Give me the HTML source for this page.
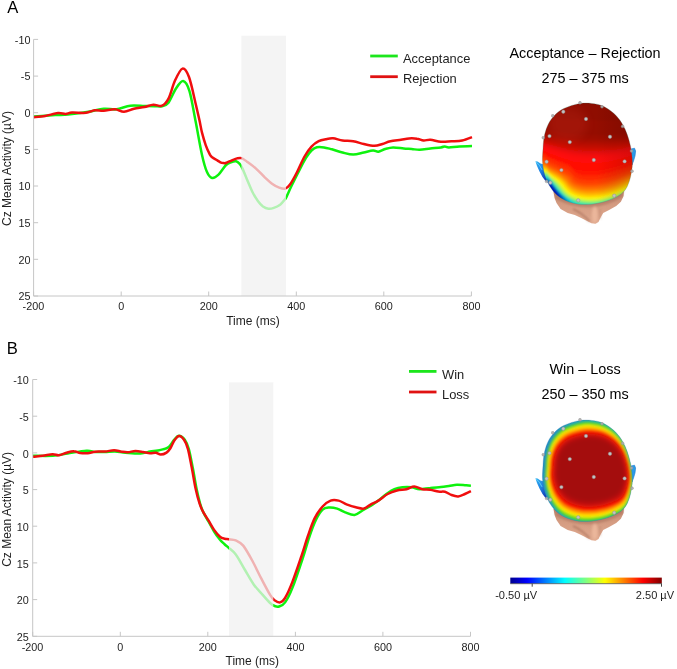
<!DOCTYPE html>
<html><head><meta charset="utf-8"><title>ERP figure</title>
<style>
html,body{margin:0;padding:0;background:#fff;}
svg{display:block;}
text{font-family:"Liberation Sans",sans-serif;fill:#1e1e1e;}
.tk{font-size:10.8px;}
.lb{font-size:12px;}
.lg{font-size:12.9px;}
.tt{font-size:14.4px;fill:#000;}
.pn{font-size:16.6px;fill:#000;}
.cb{font-size:11.05px;}
</style></head><body>
<svg width="677" height="669" viewBox="0 0 677 669">
<rect width="677" height="669" fill="#fff"/>
<g style="opacity:0.999">
<text x="7.2" y="13" class="pn">A</text>
<text x="6.7" y="354" class="pn">B</text>
<!-- chart A -->
<path d="M33.8 116.4 C37.4 116.2 49.7 115.4 55.4 115.1 C61.1 114.8 62.5 115.1 68.0 114.6 C73.5 114.0 82.5 112.8 88.5 111.8 C94.5 110.8 99.0 109.2 103.7 108.8 C108.4 108.4 112.0 109.8 116.4 109.3 C120.9 108.8 125.7 106.2 130.4 105.7 C135.1 105.2 140.4 105.9 144.4 106.0 C148.4 106.1 151.6 106.2 154.5 106.2 C157.4 106.2 159.7 106.8 162.0 106.2 C164.3 105.6 166.2 105.5 168.5 102.6 C170.8 99.6 173.6 92.1 176.0 88.5 C178.4 84.9 180.9 80.6 183.1 81.0 C185.3 81.4 187.3 84.1 189.4 90.8 C191.5 97.5 193.5 110.7 195.6 121.3 C197.7 131.9 200.0 145.9 201.9 154.4 C203.8 162.9 205.3 168.2 207.0 172.1 C208.7 176.0 210.2 177.6 212.1 178.0 C214.0 178.4 216.2 176.9 218.5 174.7 C220.8 172.5 223.9 167.1 226.0 165.0 C228.1 162.9 229.3 162.8 231.0 162.2 C232.7 161.6 234.7 161.0 236.1 161.3 C237.5 161.6 238.6 162.7 239.7 163.9 C240.8 165.1 241.2 165.9 242.4 168.4 C243.6 170.9 245.2 175.3 246.9 179.2 C248.6 183.1 250.5 188.1 252.3 191.7 C254.1 195.3 255.9 198.2 257.7 200.7 C259.5 203.2 261.2 205.2 263.0 206.6 C264.8 207.9 266.6 208.6 268.4 208.8 C270.2 209.0 271.9 208.6 273.8 207.9 C275.8 207.2 278.3 206.0 280.1 204.7 C281.9 203.3 283.6 201.1 284.6 199.8 C285.7 198.5 285.2 199.5 286.4 197.1 C287.6 194.7 289.6 189.8 291.7 185.5 C293.8 181.2 296.5 175.7 298.9 171.1 C301.3 166.5 304.0 161.1 306.1 157.7 C308.2 154.3 309.7 152.2 311.5 150.5 C313.3 148.8 314.8 147.8 316.9 147.3 C319.0 146.8 321.5 147.1 324.0 147.4 C326.5 147.7 328.8 148.5 331.9 149.3 C335.0 150.2 338.9 151.6 342.5 152.5 C346.1 153.4 349.6 154.6 353.2 154.6 C356.8 154.6 360.5 153.2 363.8 152.5 C367.1 151.8 370.7 150.7 373.1 150.6 C375.5 150.5 376.4 152.0 378.4 151.7 C380.4 151.4 382.7 149.7 385.1 149.0 C387.6 148.3 390.0 147.5 393.1 147.4 C396.2 147.3 400.6 148.2 403.7 148.5 C406.8 148.8 409.0 148.8 411.7 149.0 C414.4 149.2 416.5 149.9 419.6 149.8 C422.7 149.7 426.8 148.9 430.3 148.5 C433.9 148.1 438.5 147.8 440.9 147.4 C443.3 147.1 443.6 146.4 444.9 146.4 C446.2 146.4 446.5 147.4 448.9 147.4 C451.3 147.4 455.6 146.6 459.5 146.4 C463.4 146.2 469.9 146.2 472.0 146.1" fill="none" stroke="#0ef20e" stroke-width="2.5" stroke-linejoin="round" stroke-linecap="butt"/>
<path d="M33.8 117.2 C35.7 117.0 41.2 116.6 45.2 115.9 C49.2 115.2 54.6 113.4 58.0 113.1 C61.4 112.8 63.3 114.0 65.6 113.9 C67.9 113.8 68.6 112.8 72.0 112.6 C75.4 112.4 82.2 113.2 86.0 112.8 C89.8 112.4 91.8 110.6 94.8 110.3 C97.8 110.0 100.3 111.0 103.7 110.8 C107.1 110.6 111.6 109.1 115.0 109.3 C118.4 109.5 120.8 111.9 124.0 111.8 C127.2 111.7 130.6 109.6 134.0 108.8 C137.4 108.0 141.2 107.7 144.4 107.0 C147.6 106.3 150.4 104.9 153.3 104.7 C156.2 104.5 159.5 106.7 162.0 105.7 C164.5 104.7 166.3 102.8 168.5 98.6 C170.7 94.4 172.6 85.8 174.9 80.8 C177.2 75.8 180.2 69.2 182.5 68.6 C184.8 68.0 186.8 71.2 189.0 77.0 C191.2 82.8 193.9 96.3 195.6 103.5 C197.3 110.7 198.3 115.2 199.4 120.0 C200.5 124.8 200.9 128.4 202.0 132.6 C203.1 136.8 204.4 141.4 205.7 145.1 C207.0 148.8 208.8 152.5 209.9 154.6 C211.1 156.7 211.6 156.8 212.6 157.6 C213.6 158.4 214.9 158.9 216.2 159.7 C217.5 160.5 219.2 161.7 220.4 162.3 C221.6 162.9 222.5 163.0 223.5 163.1 C224.5 163.2 225.2 163.2 226.6 162.7 C228.0 162.2 230.2 161.0 231.9 160.3 C233.7 159.6 235.5 158.8 237.1 158.4 C238.7 158.0 239.8 157.6 241.5 158.1 C243.2 158.6 244.6 159.9 247.0 161.7 C249.4 163.4 253.0 165.9 256.0 168.6 C259.0 171.2 262.3 175.1 265.0 177.6 C267.7 180.1 269.6 182.0 272.0 183.7 C274.4 185.4 277.0 186.8 279.2 187.6 C281.4 188.4 283.5 189.1 285.3 188.6 C287.1 188.1 288.0 187.4 290.0 184.6 C292.0 181.8 294.7 176.7 297.1 172.0 C299.5 167.3 302.1 160.7 304.5 156.5 C306.9 152.3 309.1 149.2 311.5 146.6 C313.9 144.0 316.3 142.4 318.7 141.2 C321.1 140.0 323.4 139.7 325.8 139.2 C328.2 138.7 330.2 138.1 333.0 138.3 C335.8 138.5 339.1 140.0 342.5 140.5 C345.9 141.0 349.6 140.7 353.2 141.3 C356.8 141.9 360.3 143.2 363.8 144.0 C367.3 144.8 371.3 145.8 374.4 145.8 C377.5 145.8 379.7 144.8 382.4 144.0 C385.1 143.2 387.3 142.0 390.4 141.3 C393.5 140.6 397.9 140.2 401.0 139.7 C404.1 139.2 406.3 138.6 409.0 138.4 C411.7 138.2 414.6 138.3 417.0 138.7 C419.4 139.0 421.4 140.3 423.6 140.5 C425.8 140.7 427.4 139.5 430.3 139.7 C433.2 139.9 437.4 141.5 440.9 141.8 C444.4 142.1 447.9 141.5 451.5 141.3 C455.1 141.1 458.8 141.2 462.2 140.5 C465.6 139.8 470.4 137.7 472.0 137.1" fill="none" stroke="#f00e0e" stroke-width="2.5" stroke-linejoin="round" stroke-linecap="butt"/>
<rect x="241.4" y="35.7" width="44.6" height="260.3" fill="#f0f0f0" fill-opacity="0.73"/>
<path d="M33.6 39.4 V296 H471.4" fill="none" stroke="#c6c6c6" stroke-width="1"/>
<path d="M33.6 39.4 h4.5" stroke="#c6c6c6" stroke-width="1"/>
<text x="30.4" y="43.6" text-anchor="end" class="tk">-10</text>
<path d="M33.6 76.1 h4.5" stroke="#c6c6c6" stroke-width="1"/>
<text x="30.4" y="80.3" text-anchor="end" class="tk">-5</text>
<path d="M33.6 112.7 h4.5" stroke="#c6c6c6" stroke-width="1"/>
<text x="30.4" y="116.9" text-anchor="end" class="tk">0</text>
<path d="M33.6 149.4 h4.5" stroke="#c6c6c6" stroke-width="1"/>
<text x="30.4" y="153.6" text-anchor="end" class="tk">5</text>
<path d="M33.6 186.0 h4.5" stroke="#c6c6c6" stroke-width="1"/>
<text x="30.4" y="190.2" text-anchor="end" class="tk">10</text>
<path d="M33.6 222.7 h4.5" stroke="#c6c6c6" stroke-width="1"/>
<text x="30.4" y="226.9" text-anchor="end" class="tk">15</text>
<path d="M33.6 259.3 h4.5" stroke="#c6c6c6" stroke-width="1"/>
<text x="30.4" y="263.5" text-anchor="end" class="tk">20</text>
<path d="M33.6 296.0 h4.5" stroke="#c6c6c6" stroke-width="1"/>
<text x="30.4" y="300.2" text-anchor="end" class="tk">25</text>
<path d="M33.6 296 v-4.5" stroke="#c6c6c6" stroke-width="1"/>
<text x="33.4" y="310.3" text-anchor="middle" class="tk">-200</text>
<path d="M121.2 296 v-4.5" stroke="#c6c6c6" stroke-width="1"/>
<text x="121.2" y="310.3" text-anchor="middle" class="tk">0</text>
<path d="M208.7 296 v-4.5" stroke="#c6c6c6" stroke-width="1"/>
<text x="208.7" y="310.3" text-anchor="middle" class="tk">200</text>
<path d="M296.3 296 v-4.5" stroke="#c6c6c6" stroke-width="1"/>
<text x="296.3" y="310.3" text-anchor="middle" class="tk">400</text>
<path d="M383.8 296 v-4.5" stroke="#c6c6c6" stroke-width="1"/>
<text x="383.8" y="310.3" text-anchor="middle" class="tk">600</text>
<path d="M471.4 296 v-4.5" stroke="#c6c6c6" stroke-width="1"/>
<text x="471.4" y="310.3" text-anchor="middle" class="tk">800</text>
<text x="253" y="324.5" text-anchor="middle" class="lb">Time (ms)</text>
<text transform="translate(10.9 168.5) rotate(-90)" text-anchor="middle" class="lb">Cz Mean Activity (µV)</text>
<path d="M370.2 56 H397.8" stroke="#1ce61c" stroke-width="2.8"/>
<path d="M370.2 76.7 H397.8" stroke="#e01212" stroke-width="2.8"/>
<text x="403" y="63.4" class="lg">Acceptance</text>
<text x="403" y="82.5" class="lg">Rejection</text>
<text x="585" y="57.6" text-anchor="middle" class="tt">Acceptance – Rejection</text>
<text x="585" y="83.2" text-anchor="middle" class="tt">275 – 375 ms</text>
<!-- chart B -->
<path d="M33.0 455.8 C36.3 455.8 46.8 456.2 52.6 455.8 C58.4 455.4 62.1 454.4 67.7 453.5 C73.4 452.6 81.9 450.9 86.5 450.7 C91.1 450.4 92.2 451.8 95.3 452.0 C98.4 452.2 101.7 452.1 105.0 452.0 C108.3 451.9 111.6 451.4 115.0 451.5 C118.4 451.6 121.2 452.4 125.4 452.7 C129.7 453.0 136.4 453.7 140.5 453.5 C144.6 453.3 147.1 452.1 150.0 451.6 C152.9 451.1 155.2 451.0 157.8 450.5 C160.4 450.0 163.6 449.4 165.5 448.7 C167.4 448.0 167.9 447.9 169.4 446.4 C170.9 444.9 172.7 441.4 174.3 439.6 C175.9 437.8 177.3 435.8 179.1 435.8 C180.8 435.8 183.2 437.6 184.8 439.8 C186.4 442.1 187.6 444.6 188.9 449.3 C190.2 454.0 191.5 461.5 192.8 468.1 C194.1 474.7 195.4 483.2 196.6 489.1 C197.8 495.0 199.0 499.8 200.1 503.7 C201.2 507.6 202.0 509.5 203.4 512.4 C204.8 515.3 206.5 518.0 208.3 521.2 C210.1 524.4 212.2 528.4 214.1 531.5 C216.0 534.6 218.2 537.5 220.0 539.7 C221.8 541.9 223.4 543.1 224.8 544.5 C226.2 545.9 226.9 546.1 228.7 547.8 C230.5 549.5 233.1 550.9 235.8 554.5 C238.5 558.1 241.7 564.5 244.7 569.5 C247.7 574.5 250.7 580.2 253.7 584.4 C256.7 588.6 260.0 591.8 262.7 594.9 C265.4 598.0 268.1 601.1 270.1 603.0 C272.1 604.9 273.1 605.4 274.6 606.0 C276.1 606.6 277.4 607.1 279.1 606.5 C280.9 605.9 282.9 605.6 285.1 602.4 C287.4 599.2 289.7 594.8 292.6 587.4 C295.5 580.0 299.9 566.7 302.7 558.3 C305.5 549.9 307.1 543.4 309.3 537.0 C311.5 530.6 313.8 524.3 316.0 519.8 C318.2 515.2 320.4 511.8 322.6 509.7 C324.8 507.6 326.8 507.7 329.2 507.5 C331.6 507.3 334.5 507.8 337.2 508.6 C339.9 509.4 342.3 511.2 345.2 512.3 C348.1 513.4 351.6 515.3 354.5 515.0 C357.4 514.7 359.8 512.0 362.5 510.5 C365.2 509.0 367.9 507.5 370.5 505.9 C373.1 504.2 375.8 502.6 378.4 500.6 C381.0 498.6 383.7 495.9 386.4 494.0 C389.1 492.1 391.7 490.3 394.4 489.2 C397.1 488.1 399.5 487.6 402.4 487.3 C405.3 487.0 408.8 487.0 411.7 487.3 C414.6 487.6 416.5 489.1 419.6 489.2 C422.7 489.3 426.8 488.2 430.3 487.9 C433.9 487.5 437.8 487.4 440.9 487.1 C444.0 486.8 446.2 486.4 448.9 486.0 C451.6 485.6 454.2 484.8 456.9 484.7 C459.6 484.6 462.6 485.0 464.9 485.2 C467.2 485.4 469.9 485.6 470.9 485.7" fill="none" stroke="#0ef20e" stroke-width="2.5" stroke-linejoin="round" stroke-linecap="butt"/>
<path d="M33.0 456.8 C34.6 456.6 39.3 456.2 42.6 455.8 C45.9 455.4 49.9 454.3 52.6 454.2 C55.3 454.1 56.6 455.4 58.9 455.2 C61.2 454.9 63.9 453.4 66.4 452.7 C68.9 452.0 71.7 451.1 74.0 451.2 C76.3 451.2 77.9 452.7 80.2 453.0 C82.5 453.3 85.3 453.4 87.8 453.2 C90.3 453.0 92.4 452.0 95.3 451.7 C98.2 451.4 102.2 451.8 105.3 451.5 C108.4 451.2 111.4 450.2 114.1 450.2 C116.8 450.2 119.4 451.4 121.7 451.7 C124.0 452.0 125.6 452.3 127.9 452.2 C130.2 452.1 133.0 451.0 135.5 451.0 C138.0 451.0 140.6 451.6 143.0 452.0 C145.4 452.4 147.9 453.2 150.0 453.3 C152.1 453.4 154.0 452.6 155.8 452.8 C157.6 453.0 158.9 454.6 160.7 454.6 C162.5 454.6 164.9 453.7 166.5 452.6 C168.1 451.6 169.1 450.3 170.4 448.3 C171.7 446.3 172.9 442.6 174.3 440.5 C175.8 438.4 177.5 436.1 179.1 436.0 C180.7 435.9 182.5 437.7 184.0 439.8 C185.5 441.9 186.6 444.1 187.9 448.8 C189.2 453.5 190.5 461.1 191.8 467.8 C193.1 474.5 194.4 483.1 195.7 489.1 C197.0 495.1 198.3 499.8 199.6 503.7 C200.9 507.6 201.9 509.6 203.4 512.4 C204.9 515.1 206.5 517.3 208.3 520.2 C210.1 523.1 212.2 527.1 214.1 529.9 C216.0 532.6 218.2 535.2 220.0 536.7 C221.8 538.2 223.4 538.3 224.8 538.7 C226.2 539.1 226.9 538.9 228.7 539.2 C230.5 539.5 233.4 539.3 235.8 540.4 C238.2 541.5 240.5 542.2 243.2 545.6 C245.9 549.0 249.2 555.0 252.2 560.5 C255.2 566.0 258.2 572.7 261.2 578.4 C264.2 584.1 267.9 591.2 270.1 594.9 C272.3 598.5 273.0 599.0 274.6 600.3 C276.2 601.5 278.2 602.8 280.0 602.4 C281.8 602.0 283.0 601.4 285.1 597.9 C287.2 594.4 289.9 588.4 292.6 581.4 C295.3 574.4 298.9 563.6 301.5 556.0 C304.1 548.4 305.8 542.0 308.0 535.7 C310.2 529.4 312.2 523.3 314.6 518.4 C317.0 513.5 319.9 509.5 322.6 506.5 C325.3 503.5 327.9 501.6 330.6 500.6 C333.3 499.6 336.0 500.0 338.6 500.6 C341.2 501.2 343.6 503.2 346.5 504.3 C349.4 505.4 352.9 506.6 355.8 507.3 C358.7 508.0 361.4 509.1 363.8 508.6 C366.2 508.2 368.1 505.9 370.5 504.6 C372.9 503.3 375.5 502.4 378.4 500.6 C381.3 498.8 384.6 495.7 387.7 494.0 C390.8 492.3 393.9 491.3 397.0 490.5 C400.1 489.7 403.5 489.9 406.4 489.2 C409.3 488.5 411.6 486.5 414.3 486.5 C417.0 486.5 419.6 488.7 422.3 489.2 C425.0 489.7 427.6 489.3 430.3 489.7 C433.0 490.1 435.9 491.2 438.3 491.6 C440.7 492.0 442.7 491.2 444.9 491.8 C447.1 492.4 449.4 494.2 451.6 495.0 C453.8 495.8 456.0 496.6 458.2 496.4 C460.4 496.2 462.8 494.9 464.9 494.0 C467.0 493.1 469.9 491.7 470.9 491.2" fill="none" stroke="#f00e0e" stroke-width="2.5" stroke-linejoin="round" stroke-linecap="butt"/>
<rect x="229" y="382.3" width="44.3" height="254.0" fill="#f0f0f0" fill-opacity="0.73"/>
<path d="M32.7 379.5 V636.3 H470.5" fill="none" stroke="#c6c6c6" stroke-width="1"/>
<path d="M32.7 379.5 h4.5" stroke="#c6c6c6" stroke-width="1"/>
<text x="28.8" y="384.3" text-anchor="end" class="tk">-10</text>
<path d="M32.7 416.2 h4.5" stroke="#c6c6c6" stroke-width="1"/>
<text x="28.8" y="421.0" text-anchor="end" class="tk">-5</text>
<path d="M32.7 452.9 h4.5" stroke="#c6c6c6" stroke-width="1"/>
<text x="28.8" y="457.7" text-anchor="end" class="tk">0</text>
<path d="M32.7 489.6 h4.5" stroke="#c6c6c6" stroke-width="1"/>
<text x="28.8" y="494.4" text-anchor="end" class="tk">5</text>
<path d="M32.7 526.2 h4.5" stroke="#c6c6c6" stroke-width="1"/>
<text x="28.8" y="531.0" text-anchor="end" class="tk">10</text>
<path d="M32.7 562.9 h4.5" stroke="#c6c6c6" stroke-width="1"/>
<text x="28.8" y="567.7" text-anchor="end" class="tk">15</text>
<path d="M32.7 599.6 h4.5" stroke="#c6c6c6" stroke-width="1"/>
<text x="28.8" y="604.4" text-anchor="end" class="tk">20</text>
<path d="M32.7 636.3 h4.5" stroke="#c6c6c6" stroke-width="1"/>
<text x="28.8" y="641.1" text-anchor="end" class="tk">25</text>
<path d="M32.7 636.3 v-4.5" stroke="#c6c6c6" stroke-width="1"/>
<text x="32.5" y="651.1" text-anchor="middle" class="tk">-200</text>
<path d="M120.3 636.3 v-4.5" stroke="#c6c6c6" stroke-width="1"/>
<text x="120.3" y="651.1" text-anchor="middle" class="tk">0</text>
<path d="M207.8 636.3 v-4.5" stroke="#c6c6c6" stroke-width="1"/>
<text x="207.8" y="651.1" text-anchor="middle" class="tk">200</text>
<path d="M295.4 636.3 v-4.5" stroke="#c6c6c6" stroke-width="1"/>
<text x="295.4" y="651.1" text-anchor="middle" class="tk">400</text>
<path d="M382.9 636.3 v-4.5" stroke="#c6c6c6" stroke-width="1"/>
<text x="382.9" y="651.1" text-anchor="middle" class="tk">600</text>
<path d="M470.5 636.3 v-4.5" stroke="#c6c6c6" stroke-width="1"/>
<text x="470.5" y="651.1" text-anchor="middle" class="tk">800</text>
<text x="252.3" y="665.4" text-anchor="middle" class="lb">Time (ms)</text>
<text transform="translate(10.9 509.4) rotate(-90)" text-anchor="middle" class="lb">Cz Mean Activity (µV)</text>
<path d="M409 371.4 H436.5" stroke="#1ce61c" stroke-width="2.8"/>
<path d="M409 392 H436.5" stroke="#e01212" stroke-width="2.8"/>
<text x="442" y="379.3" class="lg">Win</text>
<text x="442" y="399" class="lg">Loss</text>
<text x="585" y="373.8" text-anchor="middle" class="tt">Win – Loss</text>
<text x="585" y="399" text-anchor="middle" class="tt">250 – 350 ms</text>
<defs>
<path id="hp" d="M543.0 148.6 C543.2 145.0 543.3 142.2 543.8 138.9 C544.3 135.7 545.0 132.3 546.2 129.1 C547.4 125.8 548.9 122.4 551.1 119.4 C553.3 116.4 556.2 113.4 559.2 111.2 C562.2 109.0 565.5 107.7 569.0 106.4 C572.5 105.1 576.6 103.9 580.4 103.4 C584.2 102.9 588.2 103.0 591.7 103.4 C595.2 103.8 598.2 104.3 601.5 105.6 C604.8 106.9 608.2 108.9 611.2 111.2 C614.2 113.5 617.1 116.4 619.4 119.4 C621.7 122.4 623.4 125.6 625.0 129.1 C626.6 132.6 628.0 136.7 629.1 140.5 C630.2 144.3 631.0 148.0 631.5 151.9 C632.0 155.8 632.5 160.0 632.4 164.0 C632.3 168.0 631.5 172.4 630.7 176.1 C629.9 179.8 628.9 183.1 627.5 185.9 C626.1 188.7 624.8 190.8 622.6 192.8 C620.4 194.8 617.8 196.4 614.5 197.9 C611.2 199.4 606.9 201.1 603.1 202.1 C599.3 203.1 595.8 203.8 591.7 204.2 C587.6 204.5 582.8 204.7 578.7 204.2 C574.7 203.7 570.8 202.6 567.4 201.3 C564.0 200.0 561.0 198.3 558.4 196.3 C555.8 194.3 553.9 192.1 552.0 189.5 C550.1 186.9 548.4 184.1 547.0 181.0 C545.6 177.9 544.6 174.6 543.8 171.2 C543.0 167.8 542.5 164.3 542.4 160.5 C542.3 156.7 542.8 152.2 543.0 148.6Z"/>
<clipPath id="hc"><use href="#hp"/></clipPath>
<filter id="b1" x="-20%" y="-20%" width="140%" height="140%"><feGaussianBlur stdDeviation="1.4"/></filter>
<filter id="b2" x="-20%" y="-20%" width="140%" height="140%"><feGaussianBlur stdDeviation="2.2"/></filter>
<filter id="b4" x="-20%" y="-20%" width="140%" height="140%"><feGaussianBlur stdDeviation="4"/></filter>
<filter id="b08" x="-20%" y="-20%" width="140%" height="140%"><feGaussianBlur stdDeviation="0.8"/></filter>
<filter id="b16" x="-20%" y="-20%" width="140%" height="140%"><feGaussianBlur stdDeviation="1.6"/></filter>
<filter id="b05" x="-20%" y="-20%" width="140%" height="140%"><feGaussianBlur stdDeviation="0.6"/></filter>
<linearGradient id="earg" x1="0" y1="0" x2="0.7" y2="1"><stop offset="0" stop-color="#35b4f2"/><stop offset="0.5" stop-color="#1f7fe0"/><stop offset="1" stop-color="#1030b0"/></linearGradient>
<linearGradient id="shR" x1="0" y1="0" x2="1" y2="0"><stop offset="0" stop-color="#200000" stop-opacity="0"/><stop offset="1" stop-color="#200000" stop-opacity="0.2"/></linearGradient>
<linearGradient id="sk" x1="0" y1="0" x2="0" y2="1"><stop offset="0" stop-color="#b98068"/><stop offset="0.45" stop-color="#d39a80"/><stop offset="1" stop-color="#e0aa90"/></linearGradient>
<linearGradient id="baseA" x1="0" y1="0" x2="1" y2="0"><stop offset="0" stop-color="#1560d8"/><stop offset="0.3" stop-color="#20a0a0"/><stop offset="0.6" stop-color="#40c850"/><stop offset="1" stop-color="#50c840"/></linearGradient>
<linearGradient id="baseB" x1="0" y1="0" x2="1" y2="0.3"><stop offset="0" stop-color="#1c78d8"/><stop offset="0.5" stop-color="#22a8c0"/><stop offset="1" stop-color="#30b890"/></linearGradient>
<linearGradient id="jet" x1="0" y1="0" x2="1" y2="0"><stop offset="0" stop-color="#00008f"/><stop offset="0.11" stop-color="#0000ff"/><stop offset="0.36" stop-color="#00ffff"/><stop offset="0.5" stop-color="#80ff80"/><stop offset="0.625" stop-color="#ffff00"/><stop offset="0.875" stop-color="#ff0000"/><stop offset="1" stop-color="#800000"/></linearGradient>
<g id="under">
<path d="M553.5 192 L554.6 198 L556.5 203 L560.6 208.9 L567.7 213 L574.8 214.9 L580.7 217.8 L586.6 220.8 L591.4 223.2 L595.5 223.8 L598.5 222 L600.8 217.2 L603.2 213 L609.1 210.1 L616.2 206 L620.9 201.8 L623.6 196 L624 190 L600 186 Z" fill="url(#sk)" filter="url(#b05)"/>
<g filter="url(#b08)">
<path d="M556 199 Q575 209 593 207 Q610 205 622 197 L624 190 L554 190 Z" fill="#a8705a" opacity="0.55"/>
<ellipse cx="594.8" cy="214.5" rx="2.9" ry="8" fill="#ecb79c" opacity="0.95"/>
<path d="M573 209 Q582 213 589.6 221.4" fill="none" stroke="#9c6450" stroke-width="1.6" opacity="0.65"/>
<path d="M600.2 209 Q599.6 214 600.3 219" fill="none" stroke="#b07860" stroke-width="1.2" opacity="0.5"/>
</g>
<path d="M535.4 161.2 L537.6 161.4 L540.5 163.6 L544 164.5 L546 172 L548.5 183 L545.5 181 L542.5 177 L539.5 171.5 L537 166 Z" fill="url(#earg)"/>
<path d="M536.4 162.4 L539.4 165.2 L541.8 169.5" fill="none" stroke="#5ccdf8" stroke-width="1" stroke-linecap="round" opacity="0.9"/>
<path d="M631 149 L634.5 148.2 L635.6 151 L635 156 L633.5 161 L632 165 L631 160 Z" fill="#2a9ae8" stroke="#1878d0" stroke-width="0.6"/>
</g>
<g id="elec">
<circle cx="580" cy="102.8" r="1.45" fill="#adadad" stroke="#8c8c8c" stroke-width="0.4" opacity="0.9"/>
<circle cx="602" cy="106.7" r="1.45" fill="#adadad" stroke="#8c8c8c" stroke-width="0.4" opacity="0.9"/>
<circle cx="563.3" cy="111.7" r="1.7" fill="#c2c2c2" stroke="#909090" stroke-width="0.45"/>
<circle cx="552.7" cy="115.8" r="1.45" fill="#adadad" stroke="#8c8c8c" stroke-width="0.4" opacity="0.9"/>
<circle cx="586" cy="119" r="1.7" fill="#c2c2c2" stroke="#909090" stroke-width="0.45"/>
<circle cx="622.6" cy="126.4" r="1.45" fill="#adadad" stroke="#8c8c8c" stroke-width="0.4" opacity="0.9"/>
<circle cx="549.5" cy="136.1" r="1.7" fill="#c2c2c2" stroke="#909090" stroke-width="0.45"/>
<circle cx="543.3" cy="137.7" r="1.45" fill="#adadad" stroke="#8c8c8c" stroke-width="0.4" opacity="0.9"/>
<circle cx="610" cy="136.8" r="1.7" fill="#c2c2c2" stroke="#909090" stroke-width="0.45"/>
<circle cx="569.8" cy="142.1" r="1.7" fill="#c2c2c2" stroke="#909090" stroke-width="0.45"/>
<circle cx="593.8" cy="160" r="1.7" fill="#c2c2c2" stroke="#909090" stroke-width="0.45"/>
<circle cx="624.6" cy="161.4" r="1.7" fill="#c2c2c2" stroke="#909090" stroke-width="0.45"/>
<circle cx="546.6" cy="161.7" r="1.7" fill="#c2c2c2" stroke="#909090" stroke-width="0.45"/>
<circle cx="561.4" cy="170.1" r="1.7" fill="#c2c2c2" stroke="#909090" stroke-width="0.45"/>
<circle cx="632" cy="171.2" r="1.45" fill="#adadad" stroke="#8c8c8c" stroke-width="0.4" opacity="0.9"/>
<circle cx="631.5" cy="151" r="1.45" fill="#adadad" stroke="#8c8c8c" stroke-width="0.4" opacity="0.9"/>
<circle cx="546.6" cy="181.4" r="1.45" fill="#adadad" stroke="#8c8c8c" stroke-width="0.4" opacity="0.9"/>
<circle cx="550.3" cy="182.7" r="1.7" fill="#c2c2c2" stroke="#909090" stroke-width="0.45"/>
<circle cx="578.2" cy="200.3" r="1.7" fill="#c2c2c2" stroke="#909090" stroke-width="0.45"/>
<circle cx="614.2" cy="195.7" r="1.7" fill="#c2c2c2" stroke="#909090" stroke-width="0.45"/>
</g>
</defs>
<g id="headA">
<use href="#under"/>
<g clip-path="url(#hc)">
<g filter="url(#b08)">
<rect x="530" y="92" width="115" height="124" fill="#050eb7"/>
<path d="M640.0 210.0L536.0 210.0L536.0 98.0L640.0 98.0L640.0 210.0ZM558.8 200.0L559.6 199.0L559.2 197.5L559.5 197.0L559.0 196.8L558.8 196.0L558.5 195.8L558.0 195.0L558.0 194.5L557.5 194.2L557.0 193.0L556.5 192.7L555.9 191.5L555.3 191.0L554.9 190.0L554.5 189.7L553.7 188.5L551.5 186.5L549.5 185.1L549.0 185.1L548.0 184.6L547.5 184.7L546.0 184.3L545.5 184.5L545.4 185.0L546.0 187.2L547.5 191.5L548.5 193.5L550.1 195.0L555.5 198.8L558.5 200.2L558.8 200.0Z" fill="#051bba" fill-rule="evenodd"/>
<path d="M640.0 210.0L536.0 210.0L536.0 98.0L640.0 98.0L640.0 210.0ZM559.8 200.5L560.6 199.5L560.5 199.0L560.0 198.8L559.9 198.5L560.3 197.5L560.0 197.3L559.7 196.5L558.9 195.5L555.1 189.5L553.5 187.5L551.0 185.3L549.0 184.1L547.0 183.8L546.5 184.0L545.5 183.6L545.0 183.9L545.5 186.2L546.1 188.0L546.0 189.0L546.1 190.0L546.8 192.5L548.2 194.0L551.5 196.7L557.5 200.1L559.5 200.8L559.8 200.5Z" fill="#0529bc" fill-rule="evenodd"/>
<path d="M640.0 210.0L536.0 210.0L536.0 98.0L640.0 98.0L640.0 210.0ZM560.8 201.0L561.3 200.5L561.2 200.0L561.3 199.5L561.0 199.4L560.9 199.0L561.2 198.5L560.8 197.5L560.0 196.1L559.8 196.0L559.5 195.3L559.0 195.0L559.0 194.5L558.3 194.0L557.5 192.3L557.0 192.0L557.0 191.5L556.5 190.6L555.2 189.0L555.0 188.5L554.1 187.5L553.5 186.5L551.7 185.0L548.9 183.5L548.0 183.2L547.5 183.2L546.5 183.0L546.0 183.2L545.0 183.0L544.8 184.0L545.6 187.5L545.5 188.0L545.1 188.5L545.1 190.0L544.4 190.5L544.5 191.0L546.0 193.0L547.5 194.5L552.0 197.8L559.1 201.0L560.5 201.4L560.8 201.0Z" fill="#0538bf" fill-rule="evenodd"/>
<path d="M640.0 210.0L536.0 210.0L536.0 98.0L640.0 98.0L640.0 210.0ZM561.6 202.0L561.8 201.5L562.3 201.0L562.2 200.5L562.3 200.0L562.0 199.9L561.9 199.5L562.2 199.0L562.0 198.5L561.5 198.3L561.5 197.5L561.0 197.3L558.0 192.5L558.0 192.0L557.5 191.6L552.5 184.9L551.4 184.0L549.4 183.0L548.5 182.8L548.0 182.4L547.5 182.3L547.0 182.6L545.0 182.3L544.5 182.6L544.4 183.0L545.1 186.0L545.1 187.0L543.7 188.5L542.7 189.0L542.5 189.5L544.2 192.5L545.9 194.5L548.3 196.5L550.2 197.5L551.0 197.7L551.5 198.3L552.0 198.4L552.5 198.8L554.5 199.6L555.5 199.7L555.8 200.0L556.5 200.0L559.0 201.3L561.6 202.0Z" fill="#0547c2" fill-rule="evenodd"/>
<path d="M640.0 210.0L536.0 210.0L536.0 98.0L640.0 98.0L640.0 210.0ZM562.7 202.5L562.8 202.0L563.4 201.5L563.2 201.0L563.4 200.5L563.0 200.3L562.7 199.5L562.9 199.0L562.5 198.8L562.5 198.0L562.0 197.8L561.0 196.1L560.7 196.0L560.5 195.3L560.0 195.1L559.5 193.8L559.0 193.5L558.6 192.5L556.4 190.0L552.0 184.0L551.0 183.1L550.5 183.0L550.0 182.6L549.2 182.5L548.5 181.9L547.9 182.0L547.5 181.6L546.5 181.7L546.0 182.0L545.0 181.8L544.2 182.0L544.2 183.0L544.7 186.0L544.0 186.7L541.0 188.0L540.9 188.5L542.6 192.0L544.9 195.0L547.5 197.4L548.0 197.5L548.5 198.0L549.0 198.1L549.5 198.6L550.0 198.5L550.5 199.1L552.0 199.6L552.5 199.5L553.0 199.9L553.5 199.9L555.0 200.4L555.5 200.8L556.0 200.5L556.5 200.9L557.0 200.8L560.0 201.9L562.7 202.5Z" fill="#0557c4" fill-rule="evenodd"/>
<path d="M640.0 210.0L536.0 210.0L536.0 98.0L640.0 98.0L640.0 210.0ZM563.8 203.0L563.9 202.5L564.4 202.0L564.3 201.5L564.5 201.0L564.0 200.7L563.8 200.0L564.0 199.5L563.5 199.3L562.0 196.7L561.7 196.5L561.5 195.9L561.0 195.6L560.8 195.0L560.5 194.9L559.6 193.5L556.6 190.0L551.0 182.5L549.5 181.8L547.0 180.9L546.0 180.9L545.5 181.2L545.0 181.2L544.5 181.5L544.0 181.2L543.9 182.0L544.4 185.0L544.2 185.5L543.0 186.1L541.5 186.1L540.0 186.6L539.3 187.0L539.9 189.5L540.7 191.5L542.2 194.0L543.9 196.0L545.5 197.4L546.0 197.5L546.5 198.0L548.1 199.0L548.5 199.4L549.0 199.4L549.6 200.0L551.0 200.6L551.5 200.5L552.0 201.0L552.5 200.9L553.5 201.4L554.5 201.3L555.0 201.6L555.5 201.4L556.0 201.7L557.0 201.7L557.5 202.0L558.0 201.6L558.5 202.0L559.0 201.9L561.0 202.6L561.5 202.5L562.0 202.8L563.8 203.0Z" fill="#0668c7" fill-rule="evenodd"/>
<path d="M640.0 210.0L536.0 210.0L536.0 98.0L640.0 98.0L640.0 210.0ZM564.9 203.5L565.0 203.0L565.5 202.5L565.4 202.0L565.6 201.5L565.5 201.2L565.0 201.0L564.8 200.5L565.0 199.9L564.5 199.7L564.0 198.7L563.5 198.5L563.5 198.0L563.0 197.7L561.0 194.6L559.5 193.2L556.8 190.0L550.4 181.5L548.5 180.8L548.0 180.9L547.6 180.5L547.0 180.3L546.5 180.6L545.5 180.3L544.5 180.4L543.6 181.0L543.7 182.0L544.1 184.0L544.0 184.9L542.5 185.4L540.5 185.0L539.5 185.4L537.5 185.7L537.4 186.0L537.7 187.0L537.5 187.5L538.1 190.0L539.2 192.5L540.0 194.0L542.3 197.0L543.6 198.0L544.0 198.5L545.0 199.3L545.7 199.5L546.1 200.0L547.5 200.7L548.0 200.7L548.5 201.2L550.0 201.6L550.5 201.6L551.0 202.1L552.0 202.3L552.5 202.6L553.3 202.5L554.0 203.0L554.5 202.5L555.5 203.1L556.0 202.5L556.5 202.8L557.5 202.6L558.0 202.9L559.0 202.8L559.5 203.0L560.0 202.8L561.5 203.0L562.0 203.3L562.5 203.2L563.0 203.4L564.5 203.6L564.9 203.5Z" fill="#0679ca" fill-rule="evenodd"/>
<path d="M640.0 210.0L536.0 210.0L536.0 189.0L536.5 191.0L537.6 193.5L540.0 197.2L541.6 199.0L542.5 199.9L543.0 200.1L543.5 200.7L544.1 201.0L544.5 201.4L545.1 201.5L545.5 202.0L546.5 202.4L547.0 202.9L547.5 202.9L548.0 203.2L549.0 203.3L549.5 203.8L550.5 203.7L551.0 204.1L551.5 204.2L552.0 204.0L552.5 204.3L553.5 204.0L554.0 204.4L555.0 204.2L555.5 204.6L556.5 204.2L557.0 204.5L558.0 204.0L558.5 204.2L559.0 204.1L559.5 203.8L560.5 204.1L561.0 203.8L561.5 204.0L562.0 203.8L563.0 203.9L563.5 203.8L564.0 204.1L564.5 203.9L565.5 204.3L566.0 204.1L566.5 204.1L567.1 203.5L567.1 203.0L567.0 202.6L566.7 202.5L566.7 202.0L566.5 201.4L566.0 201.2L565.3 199.5L564.7 199.0L564.5 198.4L564.0 198.2L563.8 197.5L562.7 196.5L562.5 195.9L562.0 195.6L561.6 195.0L557.8 191.0L550.5 181.2L549.7 180.5L549.0 180.6L548.5 180.3L546.0 179.8L545.5 179.7L545.0 180.0L543.5 179.9L543.4 181.0L543.7 184.0L543.0 184.5L542.0 184.7L539.0 184.0L538.5 184.3L537.5 184.3L536.0 183.8L536.0 98.0L640.0 98.0L640.0 210.0Z" fill="#068bcd" fill-rule="evenodd"/>
<path d="M640.0 210.0L536.0 210.0L536.0 194.5L538.5 198.4L541.9 202.0L545.2 204.5L546.0 204.7L546.5 205.2L547.5 205.5L548.0 206.0L548.9 206.0L549.5 206.5L550.0 206.3L550.5 206.4L551.0 206.8L551.5 206.4L552.5 206.9L553.5 206.4L554.0 206.8L554.5 206.7L554.8 206.5L555.0 206.1L556.0 206.6L557.0 206.2L557.5 206.5L558.0 205.9L559.0 206.2L560.0 205.4L560.5 205.7L561.0 205.6L561.4 205.0L562.5 205.1L563.0 204.6L564.0 205.0L564.5 204.5L565.0 204.8L566.5 204.9L567.0 204.7L567.5 204.9L568.3 204.5L568.4 203.5L568.6 203.0L568.0 202.6L567.5 201.5L567.0 201.4L566.8 201.0L567.0 200.5L566.5 200.3L565.5 198.8L565.0 198.5L564.0 197.1L563.5 196.9L562.6 195.5L561.5 194.7L558.0 191.0L553.7 185.5L550.0 180.3L549.5 180.0L547.0 179.3L546.5 179.5L545.5 179.1L545.0 179.4L544.0 179.3L543.1 180.0L543.5 183.0L543.3 183.5L541.5 184.0L538.5 183.1L537.5 183.2L536.0 182.8L536.0 98.0L640.0 98.0L640.0 210.0Z" fill="#069ecf" fill-rule="evenodd"/>
<path d="M640.0 210.0L554.1 210.0L554.5 209.4L555.5 209.9L555.7 209.5L556.5 209.0L557.5 209.5L557.7 209.0L558.5 208.5L559.0 208.8L559.5 208.6L560.0 207.9L561.0 208.2L562.0 207.3L562.5 207.5L563.3 207.0L563.5 206.4L564.5 206.6L564.9 206.0L566.0 206.1L566.3 205.5L566.5 205.4L567.5 205.8L568.0 205.5L568.5 205.6L569.0 205.4L570.0 205.6L570.2 205.0L570.7 204.5L570.6 204.0L570.5 203.8L570.0 203.7L569.5 202.7L569.0 202.6L568.5 201.6L568.2 201.5L568.0 200.7L567.5 200.5L567.0 199.8L566.5 199.6L566.3 199.0L566.0 198.9L565.5 198.2L565.0 198.0L565.0 197.5L564.5 197.3L563.5 196.0L563.0 195.8L561.5 194.5L558.2 191.0L555.4 187.5L549.5 179.4L549.0 179.5L548.0 178.9L547.5 179.1L547.2 179.0L546.5 178.5L546.0 178.7L545.5 178.7L545.0 179.0L543.5 178.7L543.0 178.8L542.9 180.0L543.1 182.5L543.0 182.9L542.5 183.2L541.0 183.3L536.0 181.7L536.0 98.0L640.0 98.0L640.0 210.0ZM553.5 210.0L536.0 210.0L536.0 201.0L537.2 202.5L538.7 203.5L539.1 204.0L540.0 204.5L540.4 205.0L541.0 204.9L541.5 205.5L542.8 206.0L543.2 206.5L543.5 206.6L544.0 206.4L544.6 207.0L545.5 207.3L546.0 207.7L546.9 208.0L547.5 208.5L548.5 208.7L549.0 209.1L550.0 209.2L550.5 209.6L551.0 209.4L551.5 209.5L552.0 209.8L553.0 209.5L553.8 210.0L553.5 210.0Z" fill="#06b1d2" fill-rule="evenodd"/>
<path d="M640.0 210.0L564.7 210.0L565.0 209.4L565.5 209.2L566.0 209.3L566.1 209.0L566.8 208.5L567.0 207.5L568.0 207.8L568.3 207.0L569.0 206.8L569.5 206.9L569.7 206.5L570.0 206.4L571.0 206.6L571.5 206.2L572.5 206.4L572.8 206.0L572.9 204.5L572.0 204.2L571.5 203.5L571.0 203.4L570.5 202.6L570.2 202.5L570.0 201.8L569.5 201.6L569.0 200.8L568.5 200.6L567.5 199.4L567.0 199.2L566.5 198.5L566.0 198.3L564.5 196.5L563.0 195.5L560.5 193.2L558.4 191.0L555.5 187.5L549.5 179.1L549.0 178.8L545.8 178.0L545.0 177.9L544.5 178.3L543.5 178.2L542.6 179.0L542.7 182.0L542.0 182.7L541.0 182.7L536.0 181.0L536.0 98.0L640.0 98.0L640.0 210.0ZM537.0 210.0L536.0 210.0L536.0 209.0L536.5 209.2L537.2 210.0L537.0 210.0Z" fill="#06c5d5" fill-rule="evenodd"/>
<path d="M640.0 210.0L573.0 210.0L573.3 208.5L574.0 207.9L574.5 208.0L575.0 207.4L576.0 207.5L576.3 207.0L576.4 206.5L576.9 206.0L576.6 205.5L575.5 205.2L574.0 204.1L573.5 204.0L573.0 203.3L572.5 203.2L572.0 202.5L571.5 202.4L571.0 201.7L570.5 201.5L570.0 200.9L569.5 200.7L569.0 200.2L568.5 200.0L568.2 199.5L567.5 198.8L567.0 198.6L566.0 197.4L565.5 197.2L560.5 193.0L556.5 188.5L553.4 184.5L549.5 178.8L548.5 178.0L548.0 177.9L547.5 178.1L546.5 177.5L546.0 177.7L545.0 177.6L544.5 177.8L543.5 177.6L542.5 178.0L542.6 181.0L542.5 181.3L541.5 181.9L540.5 182.1L539.1 181.5L538.5 181.5L536.0 180.4L536.0 98.0L640.0 98.0L640.0 210.0Z" fill="#0bd6d3" fill-rule="evenodd"/>
<path d="M598.0 206.6L597.5 206.9L595.5 207.0L590.0 207.0L585.0 206.7L580.5 205.9L579.0 205.3L578.0 205.1L575.0 203.6L574.5 203.1L574.0 202.9L573.5 202.4L572.5 202.1L570.5 200.5L569.0 199.6L567.0 197.8L566.5 197.6L563.5 195.3L560.8 193.0L558.0 190.0L552.5 183.0L549.5 178.5L549.0 177.9L548.5 177.7L545.0 176.9L544.5 177.2L543.5 177.2L543.0 177.5L542.5 177.5L542.2 178.0L542.3 180.0L542.0 180.8L541.0 181.5L539.0 181.0L536.0 179.9L536.0 98.0L640.0 98.0L640.0 187.5L639.5 187.9L639.0 188.0L637.5 189.4L637.1 189.5L635.5 190.9L635.0 191.0L634.0 192.0L633.7 192.0L631.0 194.0L630.6 194.0L629.5 194.9L629.0 195.0L628.0 195.9L627.5 196.0L627.0 196.5L626.5 196.5L626.0 197.0L624.5 197.9L624.0 198.0L623.5 198.4L623.0 198.5L622.5 198.9L622.0 199.0L621.5 199.4L621.0 199.5L620.5 199.9L620.0 200.0L619.5 200.4L618.9 200.5L618.5 200.9L617.7 201.0L617.0 201.5L616.5 201.5L616.0 201.9L615.4 202.0L615.0 202.3L614.0 202.5L613.5 202.9L612.5 203.0L612.0 203.5L611.3 203.5L610.5 204.0L609.5 204.0L609.0 204.4L608.0 204.5L607.5 204.9L606.0 205.0L605.5 205.4L604.0 205.5L603.5 205.9L603.0 206.0L601.5 206.0L601.0 206.3L600.5 206.4L598.0 206.6Z" fill="#1ddac5" fill-rule="evenodd"/>
<path d="M597.0 205.5L592.5 205.8L589.0 205.8L586.0 205.6L582.0 205.1L577.0 203.5L572.0 201.0L565.0 196.2L561.1 193.0L553.0 183.3L549.7 178.5L548.7 177.5L548.5 177.0L548.0 176.8L547.5 177.1L546.5 176.5L546.0 176.7L543.0 176.4L542.2 177.0L542.0 178.0L542.0 180.1L540.5 180.7L539.5 180.6L536.0 179.5L536.0 98.0L640.0 98.0L640.0 186.1L634.5 190.2L629.0 193.8L623.5 197.0L618.5 199.4L613.0 201.7L607.5 203.5L602.0 204.7L597.0 205.5Z" fill="#31dfb5" fill-rule="evenodd"/>
<path d="M595.5 204.5L589.0 204.7L586.0 204.5L582.0 204.0L578.5 203.1L575.0 201.9L572.0 200.4L565.0 196.0L561.5 193.0L559.5 190.5L559.0 190.1L557.5 188.0L552.0 181.6L548.5 176.7L545.0 175.9L544.5 175.8L544.0 176.2L543.0 176.1L542.0 176.7L541.9 177.0L541.8 179.0L541.5 179.4L540.5 179.9L539.0 180.0L536.0 179.1L536.0 98.0L640.0 98.0L640.0 185.0L634.0 189.4L628.5 193.0L623.0 196.1L617.5 198.8L612.0 200.9L606.5 202.6L601.0 203.8L595.5 204.5Z" fill="#44e3a6" fill-rule="evenodd"/>
<path d="M597.0 203.5L592.5 203.9L588.5 203.9L585.0 203.6L581.0 203.0L578.5 202.5L575.5 201.4L568.5 197.9L564.5 195.2L562.5 193.4L557.2 187.0L552.0 181.2L548.0 175.8L547.5 176.1L546.7 175.5L546.0 175.4L545.5 175.6L544.0 175.3L542.5 175.4L541.7 176.0L541.5 178.7L540.1 179.5L538.0 179.2L536.0 178.7L536.0 98.0L640.0 98.0L640.0 184.1L634.0 188.6L629.5 191.5L623.5 195.0L618.5 197.5L612.0 200.1L607.0 201.6L602.5 202.7L597.0 203.5Z" fill="#58e797" fill-rule="evenodd"/>
<path d="M596.0 203.0L588.5 203.3L585.0 203.0L581.0 202.4L578.5 201.9L575.5 200.8L568.5 197.6L565.9 196.0L564.5 194.5L562.6 193.0L555.1 184.0L551.0 179.7L548.5 176.0L547.5 175.0L547.0 175.2L544.0 174.8L543.5 175.1L542.0 175.0L541.5 176.0L541.3 178.0L540.0 178.8L538.5 178.8L536.0 178.3L536.0 98.0L640.0 98.0L640.0 183.5L634.5 187.6L629.0 191.3L623.5 194.4L618.0 197.1L612.5 199.3L607.0 201.0L601.5 202.3L596.0 203.0Z" fill="#6eec86" fill-rule="evenodd"/>
<path d="M595.0 202.5L591.0 202.7L587.5 202.6L581.0 201.9L577.5 201.0L574.5 200.0L570.5 198.3L568.0 196.9L567.0 196.3L566.0 195.3L565.5 195.0L562.3 192.0L560.5 189.5L560.0 189.2L558.0 186.5L552.9 181.0L551.0 179.3L548.9 176.5L548.1 175.0L547.5 174.6L546.0 174.3L545.5 174.6L543.5 174.0L543.0 174.4L542.0 174.3L541.4 175.0L541.4 175.5L541.0 177.4L539.5 178.3L538.0 178.0L537.5 178.1L536.0 177.7L536.0 98.0L640.0 98.0L640.0 182.9L634.0 187.4L628.5 191.0L623.0 194.1L617.5 196.7L612.0 198.9L606.0 200.7L600.5 201.8L595.0 202.5Z" fill="#84f076" fill-rule="evenodd"/>
<path d="M594.0 202.0L587.5 202.1L581.0 201.3L575.5 199.9L572.5 198.8L569.9 197.5L566.5 195.2L563.5 192.5L557.9 185.5L552.5 180.0L550.7 178.5L547.5 173.9L547.0 174.2L546.1 174.0L545.5 173.5L545.0 173.8L543.5 173.7L543.0 174.0L541.5 173.8L541.4 174.5L541.1 175.0L540.8 177.0L539.5 177.3L539.0 177.6L536.0 177.2L536.0 98.0L640.0 98.0L640.0 182.3L634.0 186.8L628.5 190.4L622.5 193.8L617.0 196.3L611.0 198.6L605.5 200.2L600.0 201.3L594.0 202.0Z" fill="#9bf464" fill-rule="evenodd"/>
<path d="M593.0 201.5L586.0 201.4L580.0 200.6L575.7 199.5L573.5 198.7L569.0 196.4L566.5 194.4L566.0 194.2L564.3 192.5L563.5 191.4L563.0 191.1L562.5 190.5L560.0 187.0L557.8 184.5L550.0 177.3L547.5 173.6L545.5 173.2L545.0 173.3L544.6 173.0L544.0 172.9L543.5 172.9L543.0 173.3L541.5 173.2L541.0 174.0L540.8 175.5L540.0 176.4L538.5 176.8L537.5 176.8L537.0 177.0L536.0 176.7L536.0 98.0L640.0 98.0L640.0 181.8L634.0 186.2L628.0 190.1L622.0 193.5L616.5 196.0L610.5 198.2L604.5 199.9L599.0 200.9L593.0 201.5Z" fill="#b0f553" fill-rule="evenodd"/>
<path d="M591.5 201.0L586.0 200.9L580.0 200.1L576.0 199.0L573.0 197.8L570.0 196.3L567.5 194.5L567.0 194.3L566.0 193.2L565.5 193.0L564.8 192.0L564.5 191.8L562.5 189.5L560.0 186.0L557.7 183.5L555.0 181.0L552.3 179.0L550.5 177.1L550.0 176.9L547.5 173.1L546.4 173.0L545.5 172.4L545.0 172.7L541.1 172.5L541.0 173.5L540.7 174.0L540.5 174.9L539.5 175.9L538.5 176.2L536.5 175.9L536.0 176.1L536.0 98.0L640.0 98.0L640.0 181.2L633.5 186.0L627.5 189.9L621.5 193.2L615.5 195.9L609.5 198.0L603.5 199.6L597.5 200.6L591.5 201.0Z" fill="#c4f541" fill-rule="evenodd"/>
<path d="M597.0 200.0L590.0 200.4L583.5 200.0L578.0 198.9L575.0 197.9L572.0 196.7L569.5 195.3L568.5 194.4L568.0 194.2L567.0 193.2L566.6 193.0L562.5 188.5L559.9 185.0L554.8 180.0L552.5 178.4L551.3 177.5L551.0 177.0L549.7 176.0L547.7 173.0L547.0 172.4L543.5 171.8L543.0 171.8L542.5 172.1L541.0 172.1L540.2 174.5L539.5 175.1L537.5 175.5L536.0 175.2L536.0 98.0L640.0 98.0L640.0 180.6L634.8 184.5L629.0 188.4L623.5 191.5L618.5 194.0L612.5 196.4L607.5 198.0L601.5 199.4L597.0 200.0Z" fill="#d9f52e" fill-rule="evenodd"/>
<path d="M593.5 199.5L586.0 199.5L580.0 198.6L575.0 197.2L570.5 195.1L569.5 194.2L569.0 194.0L567.4 192.5L567.0 192.3L563.5 188.6L560.3 184.5L557.5 181.7L554.5 179.0L552.5 177.7L549.5 175.2L547.5 172.4L546.3 171.5L545.0 171.3L544.5 171.6L542.5 171.0L542.0 171.4L541.0 171.3L540.7 171.5L540.6 172.5L540.0 173.8L538.5 174.5L537.5 174.5L537.0 174.7L536.0 174.6L536.0 98.0L640.0 98.0L640.0 179.9L633.5 184.6L628.0 188.2L622.0 191.5L616.5 194.0L611.0 196.1L605.0 197.8L599.5 198.9L593.5 199.5Z" fill="#edf51c" fill-rule="evenodd"/>
<path d="M596.0 198.5L589.5 198.8L583.5 198.4L578.0 197.4L575.5 196.6L572.5 195.3L571.5 194.5L570.0 193.7L568.5 192.4L568.0 192.2L566.0 190.2L565.6 190.0L563.5 187.0L560.9 184.0L556.1 179.5L553.0 177.2L552.4 177.0L552.0 176.5L551.5 176.4L551.2 176.0L549.8 175.0L548.4 173.5L547.0 171.2L545.5 171.0L545.0 170.6L544.5 170.8L542.5 170.6L542.0 170.9L541.0 170.7L540.2 171.5L540.2 172.5L539.5 173.1L538.0 173.8L536.0 173.8L536.0 98.0L640.0 98.0L640.0 179.3L638.7 180.0L632.5 184.5L628.0 187.4L622.5 190.4L617.5 192.8L612.0 195.0L606.5 196.7L601.5 197.8L596.0 198.5Z" fill="#fff50a" fill-rule="evenodd"/>
<path d="M591.0 198.0L586.0 197.8L580.5 197.1L575.5 195.6L572.0 193.9L569.5 192.3L567.4 190.5L564.8 187.5L564.6 187.0L563.4 185.5L559.5 181.4L555.3 178.0L551.5 175.7L550.9 175.0L549.4 174.0L548.1 172.5L547.2 171.0L546.5 170.4L545.0 170.1L544.5 170.3L544.1 170.0L542.0 169.8L541.5 170.2L540.5 170.1L540.2 170.5L539.6 172.5L538.5 172.7L538.0 173.1L536.0 172.9L536.0 98.0L640.0 98.0L640.0 178.6L637.6 180.0L630.5 185.0L625.5 188.0L619.7 191.0L615.1 193.0L609.5 195.0L603.8 196.5L598.0 197.5L591.0 198.0Z" fill="#ffe705" fill-rule="evenodd"/>
<path d="M596.5 196.5L589.5 196.8L586.0 196.7L582.5 196.3L577.5 195.2L574.0 193.8L571.5 192.5L570.5 191.8L570.0 191.6L567.7 189.5L565.0 186.3L562.9 183.5L560.0 180.6L558.0 179.0L555.5 177.5L555.0 177.0L554.0 176.5L553.6 176.0L551.0 174.6L550.1 174.0L549.8 173.5L548.5 172.7L547.0 170.2L546.4 169.5L544.5 169.2L544.0 169.6L543.0 169.5L541.0 169.0L540.2 169.5L540.1 170.0L539.7 170.5L539.5 171.6L538.0 171.9L537.5 172.2L536.0 172.1L536.0 98.0L640.0 98.0L640.0 177.8L636.1 180.0L631.5 183.2L626.5 186.3L621.5 189.0L617.0 191.1L612.0 193.0L606.5 194.7L601.5 195.8L596.5 196.5Z" fill="#ffd405" fill-rule="evenodd"/>
<path d="M594.5 195.5L588.5 195.7L582.5 195.1L579.5 194.6L577.0 193.9L575.0 193.2L572.5 192.0L571.5 191.2L571.0 191.0L567.0 187.2L566.3 186.5L564.2 183.5L561.0 180.3L559.0 178.7L553.5 175.2L552.9 175.0L552.4 174.5L549.8 173.0L549.4 172.5L548.1 171.5L546.9 169.5L545.3 168.5L544.0 168.3L543.5 168.7L540.5 168.7L539.7 169.5L539.6 170.0L539.0 170.8L537.5 171.2L536.0 171.2L536.0 98.0L640.0 98.0L640.0 176.9L634.5 180.0L629.5 183.3L625.0 186.0L620.5 188.3L616.0 190.3L610.5 192.3L605.0 193.9L599.5 195.0L594.5 195.5Z" fill="#ffc105" fill-rule="evenodd"/>
<path d="M591.0 194.5L586.0 194.3L580.5 193.6L577.0 192.6L573.0 190.8L571.0 189.5L567.1 186.0L565.5 183.5L561.5 179.5L557.8 177.0L552.5 173.8L551.6 173.5L551.3 173.0L550.5 172.9L550.3 172.5L548.7 171.5L548.4 171.0L547.8 170.5L547.0 169.0L546.0 168.1L545.0 168.0L544.4 167.5L543.5 167.4L543.0 167.7L540.5 167.7L539.7 168.5L539.6 169.0L539.0 169.5L537.5 170.3L536.0 170.2L536.0 98.0L640.0 98.0L640.0 176.0L632.8 180.0L628.1 183.0L623.7 185.5L618.6 188.0L613.8 190.0L607.8 192.0L601.5 193.5L597.5 194.1L591.0 194.5Z" fill="#ffae05" fill-rule="evenodd"/>
<path d="M591.0 193.0L585.0 192.8L580.0 192.0L576.5 191.0L572.0 188.8L568.2 185.5L566.0 182.5L562.5 179.2L558.0 176.0L554.5 174.1L552.5 172.7L551.7 172.5L551.3 172.0L550.5 171.9L550.3 171.5L548.5 170.5L546.0 167.2L544.2 167.0L543.5 166.5L543.0 166.4L542.5 166.4L542.0 166.8L540.0 166.8L539.7 167.0L539.6 168.0L539.0 168.7L537.5 169.3L536.0 169.2L536.0 98.0L640.0 98.0L640.0 174.9L630.5 180.0L622.5 184.6L617.5 187.0L613.0 188.8L607.5 190.6L602.0 191.9L596.5 192.7L591.0 193.0Z" fill="#ff9b05" fill-rule="evenodd"/>
<path d="M591.5 191.5L586.0 191.4L580.0 190.5L575.5 189.1L572.5 187.6L569.3 185.0L568.0 183.6L566.5 181.6L561.3 177.0L557.6 174.5L551.8 171.5L551.5 171.0L550.7 171.0L550.4 170.5L548.5 169.5L548.2 169.0L547.4 168.5L546.6 167.0L546.0 166.4L543.6 166.0L542.7 165.5L542.0 165.5L541.5 165.8L540.0 165.8L539.6 166.0L539.5 166.5L539.1 167.0L539.0 167.6L538.6 168.0L536.0 168.2L536.0 98.0L640.0 98.0L640.0 173.8L628.1 180.0L621.5 183.6L617.0 185.7L613.0 187.3L607.5 189.1L602.0 190.4L597.0 191.1L591.5 191.5Z" fill="#ff8805" fill-rule="evenodd"/>
<path d="M591.0 190.0L587.0 189.9L582.0 189.4L578.0 188.4L574.5 187.0L572.0 185.5L570.5 184.3L569.0 183.0L567.5 181.0L563.0 176.9L561.2 175.5L557.5 173.1L552.1 170.5L551.7 170.0L550.9 170.0L550.6 169.5L548.5 168.5L548.2 168.0L547.4 167.5L546.5 166.0L546.0 165.5L543.3 165.0L542.1 164.5L540.5 164.4L539.4 165.0L539.4 165.5L538.8 166.0L538.5 167.0L536.0 167.1L536.0 98.0L640.0 98.0L640.0 172.7L620.7 182.5L617.5 184.0L612.5 186.0L606.0 188.0L601.3 189.0L598.0 189.5L591.0 190.0Z" fill="#ff7505" fill-rule="evenodd"/>
<path d="M591.5 188.0L587.0 187.9L582.0 187.4L578.5 186.6L575.0 185.4L573.0 184.3L570.7 182.5L569.7 181.5L568.4 179.5L566.5 177.7L560.4 173.5L557.0 171.5L552.4 169.5L552.0 169.0L551.3 169.0L550.9 168.5L548.6 167.5L548.3 167.0L547.3 166.5L546.0 164.5L545.8 164.0L545.5 163.7L545.0 164.2L543.2 164.0L542.5 163.5L539.5 163.4L539.1 164.5L538.5 165.2L537.2 166.0L536.0 166.0L536.0 98.0L640.0 98.0L640.0 171.2L629.5 176.4L619.0 181.3L612.0 184.2L606.5 185.9L601.5 187.0L596.5 187.7L591.5 188.0Z" fill="#ff6205" fill-rule="evenodd"/>
<path d="M591.5 186.0L587.0 185.9L582.0 185.4L577.5 184.4L575.0 183.4L572.6 182.0L571.6 181.0L570.4 178.5L567.4 176.0L565.0 174.5L562.5 173.4L558.0 170.6L554.3 169.0L554.0 168.7L552.9 168.5L552.5 168.0L550.1 167.0L549.9 166.5L549.5 166.4L549.0 166.6L548.8 166.5L548.6 166.0L547.6 165.5L547.4 165.0L546.8 164.5L546.1 163.0L545.2 162.0L544.5 161.9L544.0 162.3L539.5 162.2L539.1 162.5L538.5 163.7L536.0 164.1L536.0 98.0L640.0 98.0L640.0 169.7L624.0 177.3L615.5 180.9L611.0 182.5L606.0 184.0L601.0 185.1L596.5 185.7L591.5 186.0Z" fill="#ff4f05" fill-rule="evenodd"/>
<path d="M591.5 184.0L588.0 184.0L582.7 183.5L580.0 182.9L577.0 181.8L574.0 180.0L572.5 178.2L572.3 177.5L572.0 177.1L568.5 174.4L563.0 171.4L562.5 171.4L561.5 171.0L559.3 169.5L559.0 169.0L558.4 169.0L558.0 168.4L557.4 168.5L557.2 168.0L553.3 166.5L553.0 166.0L552.5 166.3L551.9 166.0L551.7 165.5L550.4 165.0L550.1 164.5L549.5 164.7L548.9 164.5L548.7 164.0L547.6 163.5L547.4 163.0L546.6 162.5L546.5 162.0L546.0 161.5L545.9 161.0L544.4 160.0L539.5 159.8L539.1 161.0L538.6 161.5L538.5 162.0L537.0 162.3L536.5 162.6L536.0 162.6L536.0 98.0L640.0 98.0L640.0 168.2L632.0 172.0L623.0 176.0L618.0 178.0L611.0 180.5L605.9 182.0L601.2 183.0L598.0 183.5L591.5 184.0Z" fill="#ff3c05" fill-rule="evenodd"/>
<path d="M596.0 180.0L590.0 180.3L584.0 180.0L580.0 179.3L576.5 178.1L574.2 176.5L573.8 175.5L573.1 175.0L571.0 172.6L569.0 171.1L564.0 168.4L563.5 168.5L563.0 167.9L562.5 168.1L562.0 167.5L561.5 167.7L560.5 167.3L559.0 166.5L558.8 166.0L555.2 164.5L554.9 164.0L554.0 163.7L553.5 163.8L553.3 163.5L551.7 163.0L551.5 162.5L551.0 162.3L550.3 162.5L550.1 162.0L548.4 161.5L548.2 161.0L547.1 160.5L546.9 160.0L546.2 159.5L546.1 159.0L545.5 158.5L545.4 158.0L540.0 157.7L539.5 157.2L539.0 157.5L538.8 158.5L538.0 159.0L537.3 160.0L536.0 160.3L536.0 98.0L640.0 98.0L640.0 165.5L625.0 172.0L614.5 175.9L609.5 177.5L605.0 178.6L600.5 179.5L596.0 180.0Z" fill="#ff2905" fill-rule="evenodd"/>
<path d="M592.0 175.5L588.0 175.5L583.5 175.2L581.0 174.8L578.0 174.0L577.0 173.5L571.5 167.9L568.5 165.8L562.6 163.5L562.0 163.0L561.5 163.2L561.0 163.0L560.0 162.4L559.5 162.6L559.0 162.0L556.5 161.0L556.1 160.5L552.7 159.5L552.2 159.0L550.5 158.5L550.1 158.0L548.3 157.5L548.0 157.0L546.6 156.5L546.4 155.5L544.8 154.5L543.0 154.3L542.5 153.8L540.0 153.7L539.0 154.0L538.5 154.6L536.0 154.9L536.0 98.0L640.0 98.0L640.0 161.9L623.5 168.5L612.0 172.2L606.5 173.6L601.5 174.6L596.5 175.2L592.0 175.5Z" fill="#ff1605" fill-rule="evenodd"/>
<path d="M592.0 171.0L588.0 171.0L583.5 170.7L575.0 169.5L574.5 169.2L572.0 166.4L570.5 165.1L564.5 162.2L563.4 162.0L562.8 161.5L561.8 161.5L561.2 161.0L555.1 159.0L554.6 158.5L552.6 158.0L551.3 157.0L549.5 156.5L548.8 156.0L547.2 155.5L546.5 154.5L544.7 153.5L544.0 153.4L543.5 153.0L540.0 152.6L537.0 153.3L536.0 153.1L536.0 98.0L640.0 98.0L640.0 158.6L623.5 164.6L612.0 168.0L606.5 169.3L601.5 170.2L596.5 170.8L592.0 171.0Z" fill="#ff1005" fill-rule="evenodd"/>
<path d="M592.5 166.5L588.0 166.5L583.0 166.2L578.5 165.7L573.5 164.8L573.0 164.6L571.1 163.0L570.0 162.4L564.5 160.5L559.3 159.0L556.0 157.5L554.2 157.0L552.3 156.0L550.5 155.5L548.5 154.4L547.3 154.0L545.3 152.5L544.0 152.3L543.5 151.9L540.0 151.3L538.5 151.7L538.0 151.4L536.0 151.2L536.0 98.0L640.0 98.0L640.0 155.2L624.0 160.6L612.5 163.7L607.0 164.9L602.0 165.7L597.0 166.3L592.5 166.5Z" fill="#ff0a05" fill-rule="evenodd"/>
<path d="M598.0 163.0L591.5 163.3L585.5 163.2L579.5 162.6L573.0 161.6L568.9 160.0L564.0 158.7L558.9 157.0L553.9 155.0L552.0 154.5L547.0 152.3L546.0 151.4L542.6 150.5L540.0 150.0L539.0 150.2L536.0 149.7L536.0 98.0L640.0 98.0L640.0 152.8L626.0 157.2L615.5 160.1L606.5 161.9L598.0 163.0Z" fill="#ff1109" fill-rule="evenodd"/>
<path d="M597.5 160.5L591.0 160.8L585.0 160.6L579.0 160.0L572.5 159.0L561.0 155.7L555.7 154.0L548.6 151.5L547.0 150.7L546.0 149.9L543.3 149.0L540.5 148.3L539.0 148.4L536.0 147.9L536.0 98.0L640.0 98.0L640.0 150.9L626.0 155.0L615.5 157.7L606.0 159.5L597.5 160.5Z" fill="#fd1109" fill-rule="evenodd"/>
<path d="M597.0 158.0L591.0 158.2L585.0 158.0L579.0 157.5L572.5 156.5L561.0 153.6L553.0 151.1L549.0 149.7L544.5 147.5L542.5 146.9L540.0 146.8L536.0 146.0L536.0 98.0L640.0 98.0L640.0 149.0L625.5 153.0L615.0 155.5L605.5 157.1L597.0 158.0Z" fill="#f71109" fill-rule="evenodd"/>
<path d="M599.5 155.6L592.5 155.9L585.0 155.7L578.5 155.1L572.0 154.2L560.5 151.6L552.5 149.4L544.0 146.6L536.0 144.7L536.0 98.0L640.0 98.0L640.0 147.3L627.0 150.7L616.0 153.2L607.5 154.7L599.5 155.6Z" fill="#f11008" fill-rule="evenodd"/>
<path d="M599.0 154.5L592.5 154.8L586.0 154.7L579.5 154.2L573.0 153.3L567.0 152.1L560.0 150.5L543.5 145.8L536.0 143.9L536.0 98.0L640.0 98.0L640.0 146.5L626.0 150.0L616.0 152.2L607.0 153.7L599.0 154.5Z" fill="#eb1008" fill-rule="evenodd"/>
<path d="M598.5 153.5L592.0 153.7L586.0 153.6L579.5 153.1L573.0 152.3L566.5 151.0L560.0 149.6L544.5 145.3L536.0 143.1L536.0 98.0L640.0 98.0L640.0 145.7L626.0 149.1L616.0 151.2L607.0 152.7L598.5 153.5Z" fill="#e50f08" fill-rule="evenodd"/>
<path d="M597.5 152.5L591.0 152.7L585.0 152.5L579.0 152.0L572.5 151.1L560.0 148.6L544.5 144.4L536.0 142.4L536.0 98.0L640.0 98.0L640.0 144.9L626.0 148.2L615.5 150.3L606.0 151.8L597.5 152.5Z" fill="#df0f08" fill-rule="evenodd"/>
<path d="M596.5 151.5L590.5 151.6L584.5 151.4L578.5 150.9L572.0 150.0L560.0 147.6L536.0 141.6L536.0 98.0L640.0 98.0L640.0 144.1L625.5 147.4L615.0 149.4L605.5 150.8L596.5 151.5Z" fill="#d90f07" fill-rule="evenodd"/>
<path d="M594.5 150.5L589.0 150.5L583.0 150.2L577.0 149.7L571.0 148.8L559.5 146.5L536.0 140.8L536.0 98.0L640.0 98.0L640.0 143.3L624.5 146.7L613.5 148.7L603.5 150.0L594.5 150.5Z" fill="#d30e07" fill-rule="evenodd"/>
<path d="M602.5 149.0L595.5 149.4L588.5 149.4L581.5 149.1L574.0 148.2L567.5 147.2L560.0 145.7L536.0 140.0L536.0 98.0L640.0 98.0L640.0 142.5L627.5 145.2L618.5 146.9L610.0 148.2L602.5 149.0Z" fill="#cd0e07" fill-rule="evenodd"/>
<path d="M602.0 148.0L595.0 148.4L588.0 148.4L581.5 148.0L573.5 147.1L567.0 146.1L559.5 144.6L536.0 139.2L536.0 98.0L640.0 98.0L640.0 141.7L628.0 144.2L618.0 146.0L609.5 147.3L602.0 148.0Z" fill="#c60d06" fill-rule="evenodd"/>
<path d="M598.5 147.0L592.0 147.2L585.5 147.0L579.0 146.5L572.5 145.8L559.5 143.5L536.0 138.3L536.0 98.0L640.0 98.0L640.0 140.8L626.0 143.6L616.0 145.2L607.0 146.4L598.5 147.0Z" fill="#c00d06" fill-rule="evenodd"/>
<path d="M602.0 145.5L595.0 145.8L588.0 145.8L581.0 145.4L573.5 144.6L560.0 142.4L536.0 137.3L536.0 98.0L640.0 98.0L640.0 139.8L618.0 143.7L609.5 144.8L602.0 145.5Z" fill="#ba0d06" fill-rule="evenodd"/>
<path d="M594.0 144.5L583.0 144.2L571.5 143.1L559.0 141.0L536.0 136.3L536.0 98.0L640.0 98.0L640.0 138.8L625.0 141.5L613.5 143.1L603.5 144.1L594.0 144.5Z" fill="#b40c06" fill-rule="evenodd"/>
<path d="M600.0 143.0L593.0 143.2L586.5 143.1L580.0 142.7L573.0 142.0L560.5 140.0L536.0 135.4L536.0 98.0L640.0 98.0L640.0 137.8L627.0 140.0L617.0 141.5L608.0 142.5L600.0 143.0Z" fill="#ae0c05" fill-rule="evenodd"/>
<path d="M603.5 141.5L596.0 141.8L589.0 141.8L582.0 141.5L574.5 140.8L561.5 139.0L536.0 134.4L536.0 98.0L640.0 98.0L640.0 136.8L619.0 140.0L611.0 140.9L603.5 141.5Z" fill="#a80c05" fill-rule="evenodd"/>
<path d="M596.0 140.5L584.0 140.3L571.0 139.2L559.5 137.5L536.0 133.4L536.0 98.0L640.0 98.0L640.0 135.9L625.5 138.0L615.0 139.3L605.0 140.1L596.0 140.5Z" fill="#a20b05" fill-rule="evenodd"/>
<path d="M602.0 139.0L595.0 139.2L588.0 139.1L581.0 138.8L574.0 138.2L561.5 136.6L536.0 132.4L536.0 98.0L640.0 98.0L640.0 134.9L618.0 137.7L609.5 138.5L602.0 139.0Z" fill="#9c0b04" fill-rule="evenodd"/>
<path d="M600.0 135.5L585.5 135.4L570.0 134.3L550.0 130.7L543.0 129.7L536.0 129.0L536.0 98.0L640.0 98.0L640.0 132.2L617.0 134.6L608.0 135.2L600.0 135.5Z" fill="#950a04" fill-rule="evenodd"/>
<path d="M605.5 120.5L588.5 120.3L571.0 119.5L553.5 118.1L536.0 116.1L536.0 98.0L640.0 98.0L640.0 119.3L622.5 120.2L605.5 120.5Z" fill="#8f0a04" fill-rule="evenodd"/>
<path d="M621.5 105.0L606.5 105.3L591.0 105.1L576.0 104.6L560.5 103.5L548.0 102.3L536.0 100.9L536.0 98.0L640.0 98.0L640.0 104.1L621.5 105.0Z" fill="#890a04" fill-rule="evenodd"/>
</g>
<ellipse cx="568" cy="124" rx="20" ry="17" fill="#ff5040" opacity="0.13" filter="url(#b4)"/>
<rect x="596" y="98" width="44" height="112" fill="url(#shR)"/>
</g>
<use href="#hp" fill="none" stroke="#3a7a70" stroke-width="0.5" stroke-opacity="0.5"/>
<use href="#elec"/>
</g>
<g id="headB" transform="translate(0 317)">
<use href="#under"/>
<g clip-path="url(#hc)">
<rect x="535" y="98" width="105" height="112" fill="url(#baseB)"/>
<g filter="url(#b1)">
<use href="#hp" fill="#58e018" transform="translate(588.70 154.30) scale(0.9667 0.9724) translate(-587.40 -153.70)"/>
<use href="#hp" fill="#ffe800" transform="translate(589.25 154.20) scale(0.9389 0.9152) translate(-587.40 -153.70)"/>
<use href="#hp" fill="#ff8c00" transform="translate(589.75 153.90) scale(0.9100 0.8540) translate(-587.40 -153.70)"/>
<use href="#hp" fill="#ff1c00" transform="translate(590.10 153.60) scale(0.8778 0.7929) translate(-587.40 -153.70)"/>
</g>
<g filter="url(#b2)">
<use href="#hp" fill="#c40e08" transform="translate(590.55 153.20) scale(0.8344 0.7219) translate(-587.40 -153.70)"/>
<use href="#hp" fill="#a40c07" transform="translate(590.70 152.70) scale(0.7711 0.6450) translate(-587.40 -153.70)"/>
</g>
</g>
<use href="#hp" fill="none" stroke="#2a70a0" stroke-width="0.5" stroke-opacity="0.5"/>
<use href="#elec"/>
</g>
<rect x="510.3" y="577.6" width="151.5" height="6" fill="url(#jet)"/>
<path d="M510.3 583.7 H661.8" stroke="#505050" stroke-width="0.8"/>
<path d="M532.2 583.5 v3.2 M661.5 583.5 v3.2" stroke="#444" stroke-width="1"/>
<text x="495.2" y="598.6" class="cb">-0.50 µV</text>
<text x="674.1" y="598.6" text-anchor="end" class="cb">2.50 µV</text>
</g>
</svg>
</body></html>
